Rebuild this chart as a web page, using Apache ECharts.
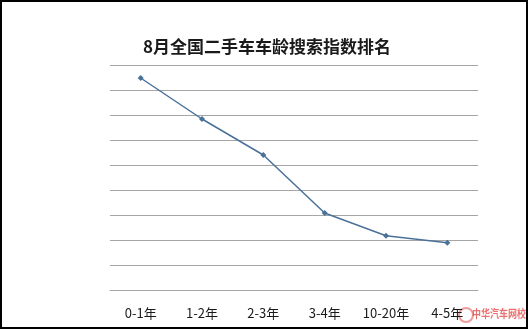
<!DOCTYPE html>
<html><head><meta charset="utf-8">
<script src="https://cdn.jsdelivr.net/npm/echarts@6/dist/echarts.min.js"></script>
<style>html,body{margin:0;padding:0;background:#fff}
#wrap{position:relative;width:528px;height:329px}
#c{width:528px;height:329px}
#b{position:absolute;left:0;top:0;width:528px;height:329px;box-sizing:border-box;border:2px solid #000;pointer-events:none}</style>
</head><body><div id="wrap"><div id="c"></div><div id="b"></div></div>
<script>
const title = "8月全国二手车车龄搜索指数排名";
const categories = ["0-1年","1-2年","2-3年","3-4年","10-20年","4-5年"];
const values = [8.48, 6.84, 5.4, 3.08, 2.17, 1.89];
const watermark = "中华汽车网校";

const chart = echarts.init(document.getElementById('c'), null, {renderer:'canvas'});
chart.setOption({
  animation:false,
  title:{text:title,left:262,top:33,textAlign:'center',
    textStyle:{fontSize:17,fontWeight:'bold',color:'#1a1a1a',fontFamily:'Noto Sans CJK SC'}},
  grid:{left:110,right:50,top:65,bottom:39},
  xAxis:{type:'category',data:categories,boundaryGap:true,
    axisLine:{show:true,lineStyle:{color:'#a6a6a6',width:1}},
    axisTick:{show:false},
    axisLabel:{color:'#1a1a1a',fontSize:13,margin:17,fontFamily:'Noto Sans CJK SC'}},
  yAxis:{type:'value',min:0,max:9,interval:1,
    axisLine:{show:false},axisTick:{show:false},axisLabel:{show:false},
    splitLine:{lineStyle:{color:'#a6a6a6',width:1}}},
  series:[{type:'line',data:values,symbol:'diamond',symbolSize:6,
    lineStyle:{color:'#4a7199',width:1.5},itemStyle:{color:'#4a7199'}}],
  graphic:[
    {type:'circle',x:466,y:315,shape:{cx:0,cy:0,r:7},style:{fill:'none',stroke:'rgba(220,60,60,0.5)',lineWidth:2}},
    {type:'text',x:472,y:308,scaleY:1.2,style:{text:watermark,fill:'rgba(225,50,50,0.7)',fontSize:9,fontWeight:'bold',fontFamily:'Noto Sans CJK SC'}}
  ]
});
</script></body></html>
